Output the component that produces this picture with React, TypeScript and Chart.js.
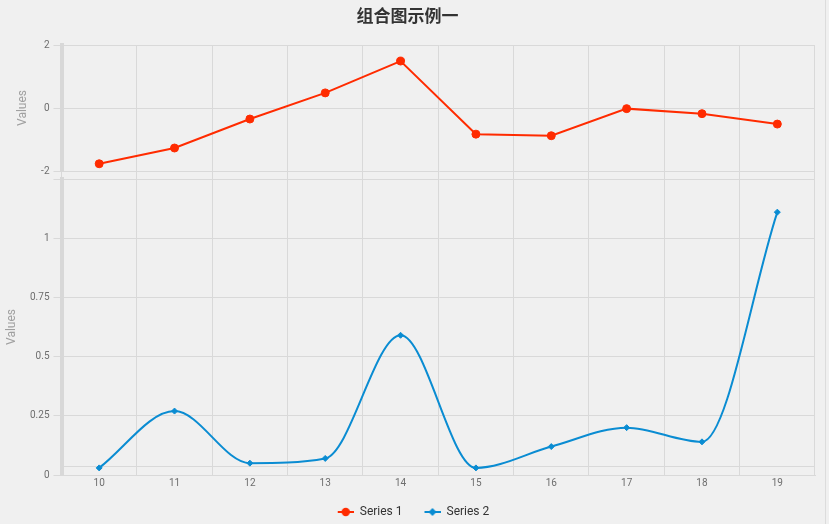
import React, { useEffect, useRef } from 'react';
import { Chart, registerables } from 'chart.js';

Chart.register(...registerables);

const categories = ['10', '11', '12', '13', '14', '15', '16', '17', '18', '19'];
const series1 = [-1.77, -1.27, -0.35, 0.48, 1.49, -0.83, -0.88, -0.02, -0.18, -0.51];
const series2 = [0.03, 0.27, 0.05, 0.07, 0.59, 0.03, 0.12, 0.2, 0.14, 1.11];
const topTicks = [-2, 0, 2];
const bottomTicks = [0, 0.25, 0.5, 0.75, 1];
const seriesNames = ['Series 1', 'Series 2'];

const RED = '#ff2b00';
const BLUE = '#0a8cd2';
const GRID = '#d9d9d9';
const BG = '#f0f0f0';

function makeMarker(color: string, diamond: boolean): HTMLCanvasElement {
  const c = document.createElement('canvas');
  c.width = 28;
  c.height = 10;
  const ctx = c.getContext('2d')!;
  ctx.strokeStyle = color;
  ctx.fillStyle = color;
  ctx.lineWidth = 2;
  ctx.beginPath();
  ctx.moveTo(12, 5);
  ctx.lineTo(28, 5);
  ctx.stroke();
  ctx.beginPath();
  if (diamond) {
    ctx.moveTo(20, 1);
    ctx.lineTo(24, 5);
    ctx.lineTo(20, 9);
    ctx.lineTo(16, 5);
    ctx.closePath();
  } else {
    ctx.arc(20, 5, 4.2, 0, Math.PI * 2);
  }
  ctx.fill();
  return c;
}

const extraLinePlugin = {
  id: 'extraLine',
  beforeDatasetsDraw(chart: any) {
    const { ctx, chartArea } = chart;
    const y2 = chart.scales.y2;
    ctx.save();
    ctx.strokeStyle = GRID;
    ctx.lineWidth = 1;
    ctx.beginPath();
    const y = Math.round(y2.bottom - 9) + 0.5;
    ctx.moveTo(chartArea.left + 2, y);
    ctx.lineTo(chartArea.right, y);
    ctx.stroke();
    ctx.restore();
  },
};

export default function App() {
  const ref = useRef<HTMLCanvasElement>(null);

  useEffect(() => {
    document.body.style.margin = '0';
    document.body.style.background = BG;
    const markers = [makeMarker(RED, false), makeMarker(BLUE, true)];
    const tickFont = { family: 'Roboto', size: 10 };
    const chart = new Chart(ref.current!, {
      type: 'line',
      data: {
        labels: categories,
        datasets: [
          {
            label: seriesNames[0],
            data: series1,
            yAxisID: 'y1',
            borderColor: RED,
            backgroundColor: RED,
            borderWidth: 2,
            pointRadius: 4,
            pointBorderWidth: 1,
            pointBackgroundColor: RED,
            pointBorderColor: RED,
            tension: 0,
          },
          {
            label: seriesNames[1],
            data: series2,
            yAxisID: 'y2',
            borderColor: BLUE,
            backgroundColor: BLUE,
            borderWidth: 2,
            pointStyle: 'rectRot',
            pointRadius: 3,
            pointBorderWidth: 1,
            pointBackgroundColor: BLUE,
            pointBorderColor: BLUE,
            cubicInterpolationMode: 'monotone',
            tension: 0.4,
          },
        ],
      },
      options: {
        responsive: false,
        animation: false,
        layout: { padding: { left: 0, right: 14, top: 0, bottom: -4 } },
        plugins: {
          title: {
            display: true,
            text: '组合图示例一',
            color: '#333',
            font: { family: 'Noto Sans CJK SC', size: 17, weight: 'bold' },
            padding: { top: 5, bottom: 19.6 },
          },
          legend: {
            position: 'bottom',
            labels: {
              usePointStyle: true,
              pointStyleWidth: 28,
              boxHeight: 12,
              padding: 10,
              color: '#333',
              font: { family: 'Roboto', size: 12 },
              generateLabels: (ch: any) =>
                ch.data.datasets.map((ds: any, i: number) => ({
                  text: ds.label,
                  pointStyle: markers[i],
                  fillStyle: ds.borderColor,
                  strokeStyle: ds.borderColor,
                  lineWidth: 0,
                  hidden: !ch.isDatasetVisible(i),
                  datasetIndex: i,
                  fontColor: '#333',
                })),
            },
          },
          tooltip: { enabled: false },
        },
        scales: {
          x: {
            type: 'category',
            offset: true,
            grid: { offset: true, color: GRID, drawTicks: false },
            border: { display: true, color: GRID },
            ticks: { color: '#6e6e6e', font: tickFont, padding: 2 },
            afterFit: (s: any) => {
              s.height = 21;
            },
          },
          y2: {
            type: 'linear',
            position: 'left',
            stack: 'v',
            stackWeight: 296,
            min: 0,
            max: 1.25,
            grid: { color: GRID, tickLength: 8 },
            border: { display: true, color: '#d8d8d8', width: 4 },
            ticks: {
              stepSize: 0.25,
              color: '#6e6e6e',
              font: tickFont,
              padding: 4,
              callback: (v: any) => (bottomTicks.includes(Number(v)) ? String(v) : ''),
            },
            title: {
              display: true,
              text: 'Values',
              color: '#a0a0a0',
              font: { family: 'Roboto', size: 12 },
              padding: { top: 5, bottom: 0 },
            },
            afterFit: (s: any) => {
              s.width = 61.5;
            },
          },
          gap: {
            type: 'linear',
            position: 'left',
            stack: 'v',
            stackWeight: 8,
            grid: { display: false, drawTicks: false },
            border: { display: false },
            ticks: { display: false },
            afterFit: (s: any) => {
              s.width = 61.5;
            },
          },
          y1: {
            type: 'linear',
            position: 'left',
            stack: 'v',
            stackWeight: 126,
            min: -2,
            max: 2,
            grid: { color: GRID, tickLength: 8 },
            border: { display: true, color: '#d8d8d8', width: 4 },
            ticks: {
              stepSize: 2,
              color: '#6e6e6e',
              font: tickFont,
              padding: 4,
              callback: (v: any) => (topTicks.includes(Number(v)) ? String(v) : ''),
            },
            title: {
              display: true,
              text: 'Values',
              color: '#a0a0a0',
              font: { family: 'Roboto', size: 12 },
              padding: { top: 16, bottom: 0 },
            },
            afterFit: (s: any) => {
              s.width = 61.5;
            },
          },
        },
      },
      plugins: [extraLinePlugin],
    } as any);
    return () => chart.destroy();
  }, []);

  return (
    <div style={{ position: 'relative', width: 829, height: 524, background: BG }}>
      <canvas ref={ref} width={829} height={524} style={{ display: 'block' }} />
      <div style={{ position: 'absolute', left: 825, top: 0, width: 1, height: 524, background: '#dcdcdc' }} />
    </div>
  );
}
